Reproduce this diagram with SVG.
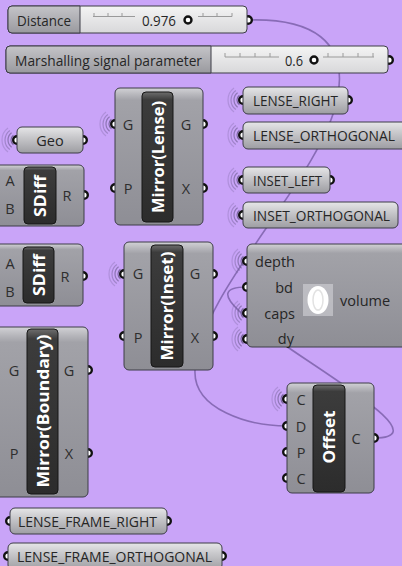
<svg xmlns="http://www.w3.org/2000/svg" width="402" height="566" viewBox="0 0 402 566">
  <defs>
    <linearGradient id="compGrad" x1="0" y1="0" x2="0" y2="1">
      <stop offset="0" stop-color="#d2d2d6"/>
      <stop offset="0.05" stop-color="#b6b6bb"/>
      <stop offset="0.09" stop-color="#a2a2a8"/>
      <stop offset="1" stop-color="#8e8e95"/>
    </linearGradient>
    <linearGradient id="paramGrad" x1="0" y1="0" x2="0" y2="1">
      <stop offset="0" stop-color="#e6e6e8"/>
      <stop offset="0.35" stop-color="#cbcbce"/>
      <stop offset="1" stop-color="#9d9da2"/>
    </linearGradient>
    <linearGradient id="sliderLabelGrad" x1="0" y1="0" x2="0" y2="1">
      <stop offset="0" stop-color="#c4c4c8"/>
      <stop offset="1" stop-color="#9a9a9f"/>
    </linearGradient>
    <linearGradient id="sliderGrad" x1="0" y1="0" x2="0" y2="1">
      <stop offset="0" stop-color="#f4f4f4"/>
      <stop offset="1" stop-color="#d8d8da"/>
    </linearGradient>
    <linearGradient id="barGrad" x1="0" y1="0" x2="0" y2="1">
      <stop offset="0" stop-color="#6e6e6e"/>
      <stop offset="0.06" stop-color="#3c3c3c"/>
      <stop offset="1" stop-color="#2c2c2c"/>
    </linearGradient>
    <!-- wireless receiver arcs, centred on an input grip -->
    <g id="waves">
      <path d="M-3.6,-4.8 A6,6 0 0 0 -3.6,4.8" stroke-opacity="0.85"/>
      <path d="M-5.4,-7.2 A9,9 0 0 0 -5.4,7.2" stroke-opacity="0.65"/>
      <path d="M-7.2,-9.6 A12,12 0 0 0 -7.2,9.6" stroke-opacity="0.45"/>
      <path d="M-9,-12 A15,15 0 0 0 -9,12" stroke-opacity="0.28"/>
    </g>
    <style>
      .wire{fill:none;stroke:#7c62aa;stroke-width:1.6;stroke-opacity:0.85}
      .waves{fill:none;stroke:#6f5d92;stroke-width:1.2}
      .grip{fill:#fff;stroke:#111;stroke-width:2.4}
      .comp{fill:url(#compGrad);stroke:#3c3c46;stroke-width:1}
      .param{fill:url(#paramGrad);stroke:#3c3c46;stroke-width:1}
      .slab{fill:url(#sliderLabelGrad);stroke:#3c3c46;stroke-width:1}
      .strack{fill:url(#sliderGrad);stroke:#3c3c46;stroke-width:1}
      .bar{fill:url(#barGrad);stroke:#161616;stroke-width:1}
      .tick{stroke:#9a9a9a;stroke-width:1;fill:none}
      .knob{fill:#fff;stroke:#111;stroke-width:2.4}
      text{font-family:'Open Sans','Noto Sans','DejaVu Sans',sans-serif;dominant-baseline:central}
      .lbl{font-size:14.5px;fill:#262626}
      .in{font-size:14.5px;fill:#262626;text-anchor:end}
      .port{font-size:14.5px;fill:#2e2e2e;text-anchor:middle}
      .bartxt{font-size:16px;font-weight:bold;fill:#fff;text-anchor:middle}
    </style>
  </defs>

  <rect x="0" y="0" width="402" height="566" fill="#c9a4f8"/>

  <!-- connectors -->
  <g id="wires">
    <path class="wire" d="M248,20 C310,18 350,40 337,100 C320,180 200,290 195,370 C193,410 250,426 287,426"/>
    <path class="wire" d="M374,438 C474,438 147,287 247,287"/>
  </g>

  <!-- number sliders -->
  <g id="slider-distance">
    <circle class="grip" cx="248" cy="20" r="3.8"/>
    <rect class="strack" x="8" y="6" width="239" height="27" rx="4"/>
    <path class="slab" d="M12,6 H80 V33 H12 A4,4 0 0 1 8,29 V10 A4,4 0 0 1 12,6 Z"/>
    <text class="lbl" x="17" y="20" textLength="54" lengthAdjust="spacingAndGlyphs">Distance</text>
    <path class="tick" d="M93,16.5 H135 M94,13 V16.5 M108,13 V16.5 M122,13 V16.5 M198,16.5 H232 M203,13 V16.5 M217,13 V16.5 M232,13 V16.5"/>
    <text class="lbl" x="142" y="20" textLength="34" lengthAdjust="spacingAndGlyphs">0.976</text>
    <circle class="knob" cx="188" cy="20" r="3.5"/>
  </g>

  <g id="slider-marshalling">
    <circle class="grip" cx="389" cy="60" r="3.8"/>
    <rect class="strack" x="6" y="46" width="382" height="27" rx="4"/>
    <path class="slab" d="M10,46 H211 V73 H10 A4,4 0 0 1 6,69 V50 A4,4 0 0 1 10,46 Z"/>
    <text class="lbl" x="15" y="60" textLength="187" lengthAdjust="spacingAndGlyphs">Marshalling signal parameter</text>
    <path class="tick" d="M225,57 H279 M225,53 V57 M240,53 V57 M255,53 V57 M270,53 V57 M323,57 H374 M328,53 V57 M343,53 V57 M358,53 V57 M373,53 V57"/>
    <text class="lbl" x="285" y="60" textLength="18" lengthAdjust="spacingAndGlyphs">0.6</text>
    <circle class="knob" cx="314" cy="60" r="3.5"/>
  </g>

  <!-- Mirror (Lense) -->
  <g id="mirror-lense">
    <use href="#waves" class="waves" x="115" y="124"/>
    <circle class="grip" cx="115" cy="124" r="3.8"/>
    <circle class="grip" cx="115" cy="188" r="3.8"/>
    <circle class="grip" cx="203" cy="124" r="3.8"/>
    <circle class="grip" cx="203" cy="188" r="3.8"/>
    <rect class="comp" x="115" y="88" width="88" height="137" rx="5"/>
    <rect class="bar" x="142" y="92" width="31" height="130" rx="4"/>
    <text class="bartxt" transform="translate(157.5,157) rotate(-90)" textLength="112" lengthAdjust="spacingAndGlyphs">Mirror(Lense)</text>
    <text class="port" x="128" y="124">G</text>
    <text class="port" x="186" y="124">G</text>
    <text class="port" x="128" y="188">P</text>
    <text class="port" x="186" y="188">X</text>
  </g>

  <g id="geo">
    <use href="#waves" class="waves" x="17" y="140"/>
    <circle class="grip" cx="17" cy="140" r="3.8"/>
    <circle class="grip" cx="83" cy="140" r="3.8"/>
    <rect class="param" x="17" y="127" width="66" height="26" rx="5"/>
    <text class="lbl" x="50" y="140" text-anchor="middle">Geo</text>
  </g>

  <g id="sdiff-1">
    <circle class="grip" cx="84" cy="195" r="3.8"/>
    <rect class="comp" x="-6" y="165" width="90" height="61" rx="5"/>
    <rect class="bar" x="24" y="167" width="32" height="57" rx="4"/>
    <text class="bartxt" transform="translate(40,196) rotate(-90)" textLength="42" lengthAdjust="spacingAndGlyphs">SDiff</text>
    <text class="port" x="10" y="180">A</text>
    <text class="port" x="10" y="208">B</text>
    <text class="port" x="67" y="195">R</text>
  </g>

  <!-- named wireless parameters -->
  <g id="lense-right">
    <use href="#waves" class="waves" x="243" y="100"/>
    <circle class="grip" cx="243" cy="100" r="3.8"/>
    <circle class="grip" cx="348" cy="100" r="3.8"/>
    <rect class="param" x="243" y="87" width="105" height="27" rx="5"/>
    <text class="lbl" x="253" y="100" textLength="85" lengthAdjust="spacingAndGlyphs">LENSE_RIGHT</text>
  </g>

  <g id="lense-orthogonal">
    <use href="#waves" class="waves" x="243" y="135"/>
    <circle class="grip" cx="243" cy="135" r="3.8"/>
    <rect class="param" x="243" y="122" width="164" height="27" rx="5"/>
    <text class="lbl" x="253" y="135" textLength="142" lengthAdjust="spacingAndGlyphs">LENSE_ORTHOGONAL</text>
  </g>

  <g id="inset-left">
    <use href="#waves" class="waves" x="243" y="180"/>
    <circle class="grip" cx="243" cy="180" r="3.8"/>
    <circle class="grip" cx="330" cy="180" r="3.8"/>
    <rect class="param" x="243" y="167" width="87" height="26" rx="5"/>
    <text class="lbl" x="253" y="180" textLength="69" lengthAdjust="spacingAndGlyphs">INSET_LEFT</text>
  </g>

  <g id="inset-orthogonal">
    <use href="#waves" class="waves" x="243" y="215"/>
    <circle class="grip" cx="243" cy="215" r="3.8"/>
    <rect class="param" x="243" y="202" width="155" height="26" rx="5"/>
    <text class="lbl" x="253" y="215" textLength="137" lengthAdjust="spacingAndGlyphs">INSET_ORTHOGONAL</text>
  </g>

  <g id="sdiff-2">
    <circle class="grip" cx="83" cy="276" r="3.8"/>
    <rect class="comp" x="-6" y="244" width="89" height="62" rx="5"/>
    <rect class="bar" x="23" y="247" width="31" height="56" rx="4"/>
    <text class="bartxt" transform="translate(38.5,275) rotate(-90)" textLength="42" lengthAdjust="spacingAndGlyphs">SDiff</text>
    <text class="port" x="10" y="263">A</text>
    <text class="port" x="10" y="291">B</text>
    <text class="port" x="65" y="276">R</text>
  </g>

  <g id="mirror-inset">
    <use href="#waves" class="waves" x="124" y="274"/>
    <circle class="grip" cx="124" cy="274" r="3.8"/>
    <circle class="grip" cx="124" cy="336" r="3.8"/>
    <circle class="grip" cx="213" cy="274" r="3.8"/>
    <circle class="grip" cx="213" cy="336" r="3.8"/>
    <rect class="comp" x="124" y="242" width="89" height="128" rx="5"/>
    <rect class="bar" x="151" y="245" width="32" height="122" rx="4"/>
    <text class="bartxt" transform="translate(167,306) rotate(-90)" textLength="109" lengthAdjust="spacingAndGlyphs">Mirror(Inset)</text>
    <text class="port" x="138" y="273">G</text>
    <text class="port" x="195" y="273">G</text>
    <text class="port" x="138" y="337">P</text>
    <text class="port" x="195" y="337">X</text>
  </g>

  <g id="volume">
    <use href="#waves" class="waves" x="247" y="261"/>
    <use href="#waves" class="waves" x="247" y="313"/>
    <use href="#waves" class="waves" x="247" y="339"/>
    <circle class="grip" cx="247" cy="261" r="3.8"/>
    <circle class="grip" cx="247" cy="287" r="3.8"/>
    <circle class="grip" cx="247" cy="313" r="3.8"/>
    <circle class="grip" cx="247" cy="339" r="3.8"/>
    <rect class="comp" x="247" y="244" width="160" height="103" rx="5"/>
    <text class="in" x="295" y="261">depth</text>
    <text class="in" x="293" y="287">bd</text>
    <text class="in" x="295" y="313">caps</text>
    <text class="in" x="294" y="338">dy</text>
    <rect x="303" y="284" width="30" height="32" fill="#d4d4d8" fill-opacity="0.6"/>
    <ellipse cx="318" cy="300" rx="10.5" ry="14" fill="#fff"/>
    <ellipse cx="318" cy="300" rx="5" ry="10" fill="none" stroke="#e2e2e2" stroke-width="1.5"/>
    <text class="lbl" x="340" y="300">volume</text>
  </g>

  <g id="mirror-boundary">
    <circle class="grip" cx="88" cy="370" r="3.8"/>
    <circle class="grip" cx="88" cy="453" r="3.8"/>
    <rect class="comp" x="-6" y="327" width="94" height="170" rx="5"/>
    <rect class="bar" x="27" y="329" width="31" height="165" rx="4"/>
    <text class="bartxt" transform="translate(42.5,411) rotate(-90)" textLength="153" lengthAdjust="spacingAndGlyphs">Mirror(Boundary)</text>
    <text class="port" x="14" y="370">G</text>
    <text class="port" x="69" y="370">G</text>
    <text class="port" x="14" y="453">P</text>
    <text class="port" x="69" y="453">X</text>
  </g>

  <g id="offset">
    <use href="#waves" class="waves" x="287" y="399"/>
    <circle class="grip" cx="287" cy="399" r="3.8"/>
    <circle class="grip" cx="287" cy="426" r="3.8"/>
    <circle class="grip" cx="287" cy="452" r="3.8"/>
    <circle class="grip" cx="287" cy="478" r="3.8"/>
    <circle class="grip" cx="374" cy="438" r="3.8"/>
    <rect class="comp" x="287" y="383" width="87" height="110" rx="5"/>
    <rect class="bar" x="313" y="385" width="32" height="107" rx="4"/>
    <text class="bartxt" transform="translate(329,437) rotate(-90)" textLength="53" lengthAdjust="spacingAndGlyphs">Offset</text>
    <text class="port" x="301" y="399">C</text>
    <text class="port" x="301" y="426">D</text>
    <text class="port" x="301" y="452">P</text>
    <text class="port" x="301" y="478">C</text>
    <text class="port" x="356" y="438">C</text>
  </g>

  <g id="lense-frame-right">
    <circle class="grip" cx="10" cy="521" r="3.8"/>
    <circle class="grip" cx="167" cy="521" r="3.8"/>
    <rect class="param" x="10" y="508" width="157" height="26" rx="5"/>
    <text class="lbl" x="18" y="521" textLength="139" lengthAdjust="spacingAndGlyphs">LENSE_FRAME_RIGHT</text>
  </g>

  <g id="lense-frame-orthogonal">
    <circle class="grip" cx="8" cy="556" r="3.8"/>
    <circle class="grip" cx="222" cy="556" r="3.8"/>
    <rect class="param" x="8" y="543" width="214" height="27" rx="5"/>
    <text class="lbl" x="17" y="556" textLength="195" lengthAdjust="spacingAndGlyphs">LENSE_FRAME_ORTHOGONAL</text>
  </g>
</svg>
